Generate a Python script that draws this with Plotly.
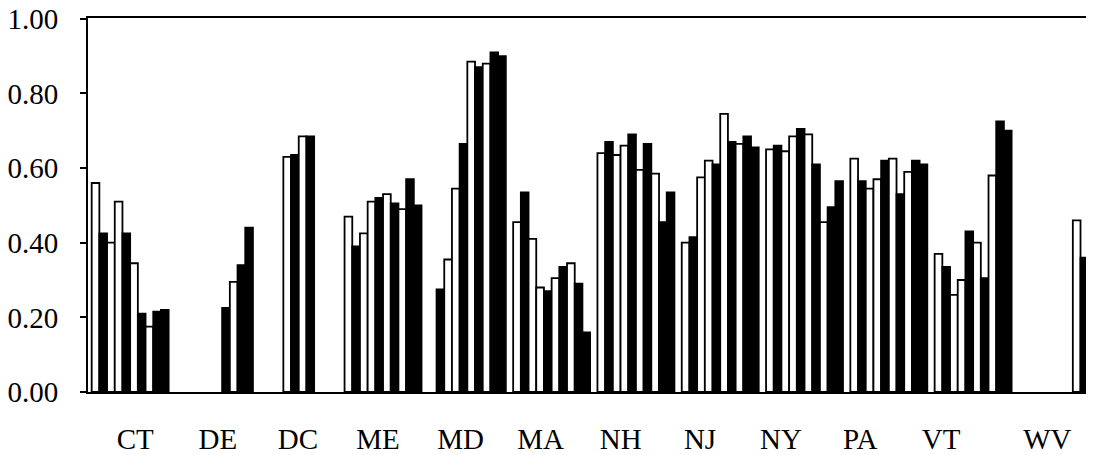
import plotly.graph_objects as go

# Categories (states)
states = ["CT", "DE", "DC", "ME", "MD", "MA", "NH", "NJ", "NY", "PA", "VT", "WV"]

# Ten bars per state (series 1..10); None = no bar
ct = [0.56, 0.425, 0.40, 0.51, 0.425, 0.345, 0.21, 0.175, 0.215, 0.22]
de = [None, None, None, None, None, None, 0.225, 0.295, 0.34, 0.44]
dc = [None, None, None, 0.63, 0.635, 0.685, 0.685, None, None, None]
me = [0.47, 0.39, 0.425, 0.51, 0.52, 0.53, 0.505, 0.49, 0.57, 0.50]
md = [None, 0.275, 0.355, 0.545, 0.665, 0.885, 0.87, 0.88, 0.91, 0.90]
ma = [0.455, 0.535, 0.41, 0.28, 0.27, 0.305, 0.335, 0.345, 0.29, 0.16]
nh = [0.64, 0.67, 0.635, 0.66, 0.69, 0.595, 0.665, 0.585, 0.455, 0.535]
nj = [0.40, 0.415, 0.575, 0.62, 0.61, 0.745, 0.67, 0.665, 0.685, 0.655]
ny = [0.65, 0.66, 0.645, 0.685, 0.705, 0.69, 0.61, 0.455, 0.495, 0.565]
pa = [0.625, 0.565, 0.545, 0.57, 0.62, 0.625, 0.53, 0.59, 0.62, 0.61]
vt = [0.37, 0.335, 0.26, 0.30, 0.43, 0.40, 0.305, 0.58, 0.725, 0.70]
wv = [None, None, None, None, None, None, None, 0.46, 0.36, 0.375]

# Fill of each of the ten series
series_fills = ["white", "black", "white", "white", "black",
                "white", "black", "white", "black", "black"]

y_ticks = [0.0, 0.2, 0.4, 0.6, 0.8, 1.0]

table = [ct, de, dc, me, md, ma, nh, nj, ny, pa, vt, wv]
positions = list(range(len(states)))

# Layout: where the state labels sit along the axis (they drift left of
# the bar groups in the original scan)
label_x = [0.06, 1.04, 1.99, 2.94, 3.92, 4.87, 5.82, 6.76, 7.72, 8.66, 9.62, 10.88]

fig = go.Figure()
for i, fill in enumerate(series_fills):
    fig.add_trace(go.Bar(
        x=positions,
        y=[row[i] for row in table],
        marker=dict(color=fill, line=dict(color="black", width=1.8)),
        showlegend=False,
        hoverinfo="skip",
    ))

fig.update_layout(
    barmode="group",
    bargap=0.087,
    bargroupgap=0,
    width=1078,
    height=447,
    margin=dict(l=80, r=0, t=10, b=63),
    plot_bgcolor="white",
    paper_bgcolor="white",
    font=dict(family="Liberation Serif, Times New Roman, serif", size=29, color="black"),
)

fig.update_xaxes(
    type="linear",
    range=[-0.5, 11.339],
    tickvals=label_x,
    ticktext=states,
    showline=True,
    linecolor="black",
    linewidth=2,
    mirror=True,
    ticks="",
    showgrid=False,
    zeroline=False,
    ticklabelstandoff=20,
    ticklabeloverflow="allow",
    automargin=False,
    tickfont=dict(size=29),
)

fig.update_yaxes(
    range=[0, 1.002],
    tickvals=y_ticks,
    tickformat=".2f",
    ticks="outside",
    ticklen=6,
    tickwidth=1.5,
    tickcolor="black",
    showline=True,
    linecolor="black",
    linewidth=2,
    showgrid=False,
    zeroline=False,
    ticklabelstandoff=16,
    ticklabeloverflow="allow",
    automargin=False,
    tickfont=dict(size=29),
)

fig.write_html("out.html")
